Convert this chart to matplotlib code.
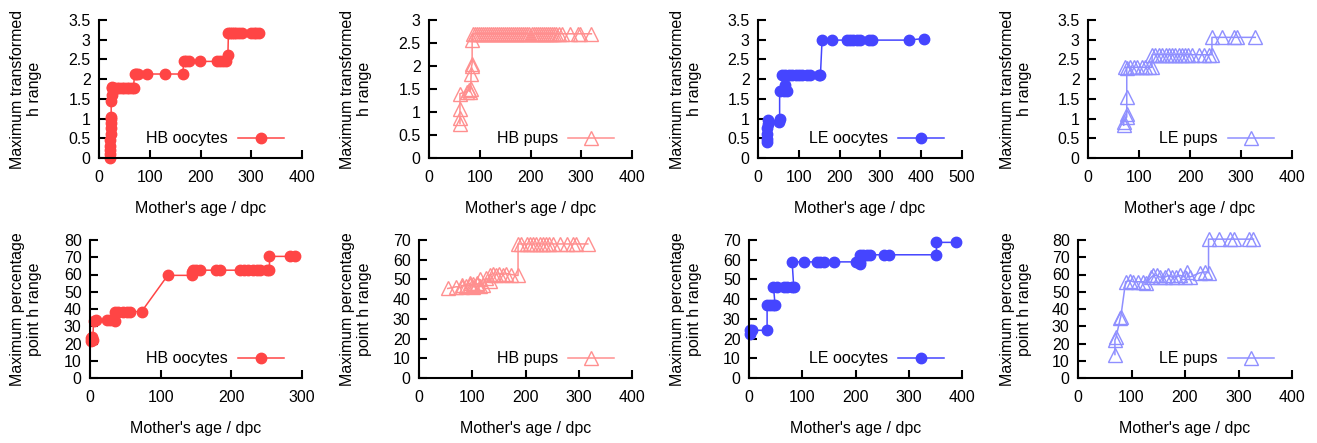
import matplotlib
matplotlib.use("Agg")
import matplotlib.pyplot as plt

plt.rcParams["font.family"] = ["Liberation Sans", "DejaVu Sans"]
plt.rcParams["font.size"] = 11.5

# ---- colours (gnuplot-like) ----
RED = "#ff4545"
PINK = "#ff8f8f"
BLUE = "#4545ff"
LBLUE = "#8f8fff"

# ---- top row: maximum transformed h range ----
hb_ooc_x = [21, 21, 22, 22, 22, 23, 23, 23, 24, 24, 24, 25, 25, 26, 30, 35, 40, 45,
            50, 55, 60, 65, 68, 70, 73, 77, 94, 130, 165, 167, 172, 178, 199, 232,
            238, 244, 250, 254, 255, 258, 262, 266, 270, 275, 281, 300, 305, 310, 316]
hb_ooc_y = [0.0, 0.1, 0.2, 0.3, 0.45, 0.6, 0.75, 0.9, 1.0, 1.05, 1.45, 1.6, 1.8, 1.78,
            1.78, 1.78, 1.78, 1.78, 1.78, 1.78, 1.78, 1.78, 1.78, 2.13, 2.13, 2.13,
            2.13, 2.13, 2.13, 2.45, 2.45, 2.45, 2.45, 2.45, 2.45, 2.45, 2.45, 2.6,
            3.18, 3.18, 3.18, 3.18, 3.18, 3.18, 3.18, 3.18, 3.18, 3.18, 3.18]

hb_pup_x = [61, 61, 61, 61, 74, 78, 81, 82, 83, 84, 85, 85, 86, 90, 94, 98, 102,
            106, 110, 114, 118, 122, 126, 130, 134, 138, 142, 146, 150, 154, 158,
            162, 166, 170, 174, 178, 182, 186, 190, 194, 198, 202, 206, 210, 214,
            218, 222, 226, 230, 234, 238, 242, 246, 250, 256, 262, 277, 294, 297, 320]
hb_pup_y = [0.75, 0.86, 1.07, 1.4, 1.44, 1.47, 1.44, 1.5, 1.82, 2.0, 2.05, 2.56,
            2.7, 2.7, 2.7, 2.7, 2.7, 2.7, 2.7, 2.7, 2.7, 2.7, 2.7, 2.7, 2.7, 2.7,
            2.7, 2.7, 2.7, 2.7, 2.7, 2.7, 2.7, 2.7, 2.7, 2.7, 2.7, 2.7, 2.7, 2.7,
            2.7, 2.7, 2.7, 2.7, 2.7, 2.7, 2.7, 2.7, 2.7, 2.7, 2.7, 2.7, 2.7, 2.7,
            2.7, 2.7, 2.7, 2.7, 2.7, 2.7]

le_ooc_x = [22, 22, 23, 23, 24, 25, 51, 53, 53, 63, 67, 70, 59, 67, 75, 83, 92,
            100, 108, 120, 128, 149, 153, 157, 181, 218, 226, 234, 243, 251, 271,
            279, 369, 406]
le_ooc_y = [0.41, 0.49, 0.62, 0.75, 0.87, 0.96, 0.92, 1.0, 1.69, 1.69, 1.85, 1.69,
            2.1, 2.1, 2.1, 2.1, 2.1, 2.1, 2.1, 2.1, 2.1, 2.1, 2.1, 2.99, 2.99, 2.99,
            2.99, 2.99, 2.99, 2.99, 2.99, 2.99, 2.99, 3.03]

le_pup_x = [70, 70, 76, 76, 76, 76, 73, 83, 90, 96, 106, 112, 119, 125, 126, 132,
            139, 145, 152, 158, 165, 171, 178, 184, 191, 197, 204, 217, 227, 237,
            243, 243, 263, 286, 292, 328]
le_pup_y = [0.83, 0.92, 1.04, 1.11, 1.55, 2.27, 2.3, 2.3, 2.3, 2.3, 2.3, 2.3,
            2.3, 2.3, 2.62, 2.62, 2.62, 2.62, 2.62, 2.62, 2.62, 2.62, 2.62, 2.62,
            2.62, 2.62, 2.62, 2.62, 2.62, 2.62, 2.62, 3.06, 3.06, 3.06, 3.06, 3.06]

# ---- bottom row: maximum percentage point h range ----
hb_ooc_px = [2, 2, 3, 4, 5, 9, 24, 28, 35, 35, 40, 47, 52, 57, 73, 110, 145, 145,
             146, 150, 155, 179, 184, 212, 218, 224, 230, 236, 240, 250, 254, 254,
             283, 290]
hb_ooc_py = [21.5, 23, 24, 22, 33, 33.5, 33.5, 33.5, 33, 38.5, 38.5, 38.5, 38.5,
             38.5, 38.5, 59.5, 59.5, 61.5, 62.5, 62.5, 62.5, 62.5, 62.5, 62.5, 62.5,
             62.5, 62.5, 62.5, 62.5, 62.5, 62.5, 70.5, 70.5, 70.5]

hb_pup_px = [54, 70, 80, 80, 89, 95, 95, 101, 101, 108, 108, 114, 114, 120, 126,
             133, 133, 139, 145, 151, 158, 164, 173, 186, 186, 192, 202, 208, 214,
             220, 227, 233, 239, 245, 252, 264, 277, 289, 295, 317]
hb_pup_py = [45.4, 46.3, 46, 47, 46.5, 47, 48, 46, 47.5, 47.5, 48, 46.5, 50, 47,
             50.5, 49, 52.2, 53, 52.5, 53, 52.5, 53, 52.5, 52, 68, 68, 68, 68, 68,
             68, 68, 68, 68, 68, 68, 68, 68, 68, 68, 68]

le_ooc_px = [2, 2, 5, 34, 34, 40, 46, 49, 46, 53, 65, 71, 81, 84, 81, 103, 128,
             134, 140, 159, 200, 209, 209, 209, 215, 222, 228, 253, 262, 352, 352,
             388]
le_ooc_py = [22.5, 24.2, 24.2, 24.2, 36.9, 36.9, 36.9, 36.9, 46.3, 46.3, 46.3,
             46.3, 46.3, 46.3, 58.9, 58.9, 58.9, 58.9, 58.9, 58.9, 58.9, 58.0, 58.9,
             62.5, 62.5, 62.5, 62.5, 62.5, 62.5, 62.5, 68.8, 68.8]

le_pup_px = [69, 69, 71, 79, 80, 89, 97, 103, 113, 122, 128, 137, 141, 147, 153,
             163, 169, 175, 184, 191, 200, 203, 209, 228, 238, 244, 244, 263, 284,
             291, 319, 328]
le_pup_py = [13.6, 22, 23.5, 34.5, 35.5, 55.8, 56.5, 55.8, 55.8, 55.8, 55, 58.5,
             59.5, 59.5, 58.5, 58.5, 59.5, 58.5, 58.5, 59.5, 58.5, 61.6, 58.5, 61,
             61.5, 61, 80.5, 80.5, 80.5, 80.5, 80.5, 80.5]

LABEL_T = "Maximum transformed\nh range"
LABEL_P = "Maximum percentage\npoint h range"
XLABEL = "Mother's age / dpc"

# (x, y, colour, marker, legend, xmax, ymax, ystep, left_px, right_px, row)
panels = [
    (hb_ooc_x, hb_ooc_y, RED, "o", "HB oocytes", 400, 3.5, 0.5, 99, 302, 0),
    (hb_pup_x, hb_pup_y, PINK, "^", "HB pups", 400, 3.0, 0.5, 429, 632, 0),
    (le_ooc_x, le_ooc_y, BLUE, "o", "LE oocytes", 500, 3.5, 0.5, 758, 962, 0),
    (le_pup_x, le_pup_y, LBLUE, "^", "LE pups", 400, 3.5, 0.5, 1088, 1292, 0),
    (hb_ooc_px, hb_ooc_py, RED, "o", "HB oocytes", 300, 80, 10, 90, 302, 1),
    (hb_pup_px, hb_pup_py, PINK, "^", "HB pups", 400, 70, 10, 419, 632, 1),
    (le_ooc_px, le_ooc_py, BLUE, "o", "LE oocytes", 400, 70, 10, 749, 962, 1),
    (le_pup_px, le_pup_py, LBLUE, "^", "LE pups", 400, 80, 10, 1078, 1292, 1),
]

W, H = 1317, 443
fig = plt.figure(figsize=(W / 100, H / 100), dpi=100)

for i, (xs, ys, col, mk, name, xmax, ymax, ystep, l_px, r_px, row) in enumerate(panels):
    top_px = 20 if row == 0 else 240
    bot_px = 158 if row == 0 else 378
    w_px = r_px - l_px
    h_px = bot_px - top_px
    ax = fig.add_axes([l_px / W, (H - bot_px) / H, w_px / W, h_px / H])

    if mk == "o":
        ax.plot(xs, ys, color=col, lw=1.1, marker="o", ms=7.5, mec=col, mfc=col,
                label=name, clip_on=False)
    else:
        ax.plot(xs, ys, color=col, lw=1.1, marker="^", ms=9.5, mec=col, mfc="none",
                mew=1.0, label=name, clip_on=False)

    ax.set_xlim(0, xmax)
    ax.set_ylim(0, ymax)
    ax.set_xticks(range(0, xmax + 1, 100))
    if ystep < 1:
        yt = [k * ystep for k in range(int(round(ymax / ystep)) + 1)]
        ax.set_yticks(yt)
        ax.set_yticklabels([("%g" % v) for v in yt])
    else:
        ax.set_yticks(range(0, int(ymax) + 1, ystep))

    for s in ("top", "right"):
        ax.spines[s].set_visible(False)
    for s in ("left", "bottom"):
        ax.spines[s].set_linewidth(1.5)
    ax.tick_params(direction="in", length=6, width=1.5, labelsize=11.5)
    ax.tick_params(axis="x", pad=9)
    ax.tick_params(axis="y", pad=6)

    # gnuplot puts the y label near the left edge of each cell
    panel_start = [0, 330, 660, 990][i % 4]
    ax.set_ylabel(LABEL_T if row == 0 else LABEL_P, fontsize=11.5, linespacing=1.15)
    ax.yaxis.set_label_coords((panel_start + 42 - l_px) / w_px, 0.5)
    ax.set_xlabel(XLABEL, fontsize=11.5)
    ax.xaxis.set_label_coords(0.5, -(201 - 158) / h_px)

    # legend: text then sample, gnuplot style
    anchor_x = (panel_start + 284 - l_px) / w_px
    ax.legend(loc="center right", bbox_to_anchor=(anchor_x, 19 / h_px), frameon=False,
              markerfirst=False, handlelength=2.9, handletextpad=0.6, borderpad=0,
              borderaxespad=0, numpoints=1, fontsize=11.5)

plt.savefig("out.png", dpi=100)
